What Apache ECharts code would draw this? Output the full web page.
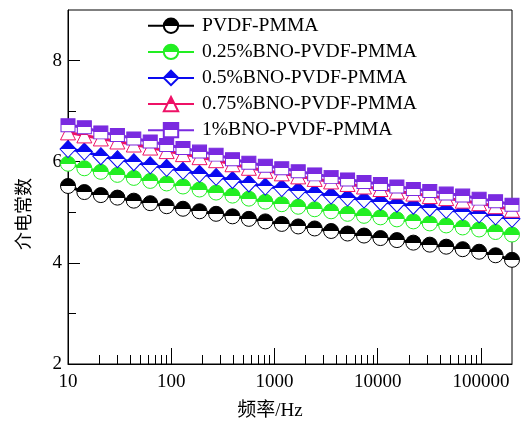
<!DOCTYPE html>
<html>
<head>
<meta charset="utf-8">
<script src="https://cdn.jsdelivr.net/npm/echarts@6/dist/echarts.min.js"></script>
<style>html,body{margin:0;padding:0;background:#fff}#c{width:529px;height:423px}</style>
</head>
<body>
<div id="c"></div>
<script>
// Frequencies (Hz)
const freqs = [10, 14.4, 20.8, 30.1, 43.4, 62.6, 90.3, 130, 188, 272, 392, 565, 816, 1177, 1699, 2452, 3538, 5106, 7369, 10634, 15346, 22147, 31960, 46123, 66560, 96052, 138613, 200000];
// Dielectric constant series
const pvdfPmma   = [5.52, 5.40, 5.34, 5.29, 5.23, 5.18, 5.12, 5.07, 5.02, 4.97, 4.92, 4.87, 4.82, 4.77, 4.72, 4.68, 4.63, 4.58, 4.54, 4.49, 4.45, 4.40, 4.36, 4.32, 4.27, 4.22, 4.15, 4.06];
const bno025     = [5.96, 5.87, 5.80, 5.74, 5.68, 5.62, 5.57, 5.51, 5.45, 5.39, 5.33, 5.27, 5.21, 5.16, 5.11, 5.06, 5.02, 4.97, 4.93, 4.90, 4.86, 4.82, 4.78, 4.74, 4.70, 4.66, 4.61, 4.56];
const bno05      = [6.25, 6.20, 6.11, 6.05, 5.99, 5.93, 5.88, 5.82, 5.76, 5.70, 5.64, 5.57, 5.51, 5.48, 5.43, 5.38, 5.33, 5.29, 5.25, 5.21, 5.17, 5.13, 5.09, 5.05, 5.01, 4.96, 4.92, 4.87];
const bno075     = [6.58, 6.52, 6.46, 6.40, 6.34, 6.28, 6.21, 6.15, 6.09, 6.03, 5.95, 5.88, 5.82, 5.77, 5.71, 5.66, 5.61, 5.56, 5.51, 5.46, 5.41, 5.37, 5.32, 5.28, 5.23, 5.18, 5.12, 5.05];
const bno1       = [6.72, 6.68, 6.58, 6.53, 6.46, 6.40, 6.33, 6.27, 6.20, 6.14, 6.05, 5.98, 5.92, 5.87, 5.81, 5.75, 5.70, 5.65, 5.60, 5.56, 5.51, 5.46, 5.42, 5.37, 5.33, 5.27, 5.22, 5.15];
const seriesNames = ['PVDF-PMMA', '0.25%BNO-PVDF-PMMA', '0.5%BNO-PVDF-PMMA', '0.75%BNO-PVDF-PMMA', '1%BNO-PVDF-PMMA'];
// Axis ticks
const yTickLabels = [2, 4, 6, 8];
const yMinorTicks = [3, 5, 7];
const xTickLabels = [10, 100, 1000, 10000, 100000];
const xMinorTicks = [20, 30, 40, 50, 60, 70, 80, 90, 200, 300, 400, 500, 600, 700, 800, 900,
  2000, 3000, 4000, 5000, 6000, 7000, 8000, 9000, 20000, 30000, 40000, 50000, 60000, 70000, 80000, 90000];

const allValues = [pvdfPmma, bno025, bno05, bno075, bno1];
const colors = ['#000000', '#22ee22', '#0a0af0', '#ee1166', '#7a2ae0'];
const symbols = ['circle', 'circle', 'diamond', 'triangle', 'rect'];
const sizes = [15, 15, [16, 17], 15, [14, 13]];
const FONT = '"Liberation Serif", "Times New Roman", "Noto Sans CJK SC", serif';

function halfFill(c) {
  return { type: 'linear', x: 0, y: 0, x2: 0, y2: 1, colorStops: [
    { offset: 0, color: c }, { offset: 0.5, color: c },
    { offset: 0.5, color: '#ffffff' }, { offset: 1, color: '#ffffff' }] };
}

const series = allValues.map((vals, i) => ({
  name: seriesNames[i],
  type: 'line',
  xAxisIndex: 0, yAxisIndex: 0,
  data: freqs.map((f, j) => [f, vals[j]]),
  symbol: symbols[i],
  symbolSize: sizes[i],
  lineStyle: { color: colors[i], width: 3 },
  itemStyle: { color: halfFill(colors[i]), borderColor: colors[i], borderWidth: 1 },
  emphasis: { disabled: true },
  animation: false
}));

const chart = echarts.init(document.getElementById('c'), null, { renderer: 'canvas' });
chart.setOption({
  animation: false,
  grid: { left: 68, right: 17, top: 10, bottom: 59, outerBoundsMode: 'none', containLabel: false,
          show: true, borderColor: '#000', borderWidth: 1, backgroundColor: 'transparent' },
  legend: {
    data: seriesNames,
    orient: 'vertical', left: 147, top: 16, padding: 0,
    itemWidth: 46, itemHeight: 18, itemGap: 6.5,
    textStyle: { fontFamily: FONT, fontSize: 19.6, color: '#000', padding: [0, 0, 0, 3] },
    selectedMode: false
  },
  xAxis: [{
    type: 'log', logBase: 10, min: 10, max: 200000, position: 'bottom',
    name: '频率/Hz', nameLocation: 'middle', nameGap: 38,
    nameTextStyle: { fontFamily: FONT, fontSize: 19, color: '#000', padding: [0, 40, 0, 0] },
    axisLine: { lineStyle: { color: '#000', width: 1 } },
    axisTick: { inside: true, length: 16, lineStyle: { color: '#000' }, customValues: xTickLabels },
    axisLabel: { fontFamily: FONT, fontSize: 19, color: '#000', margin: 9, customValues: xTickLabels, formatter: v => String(Math.round(v)) },
    splitLine: { show: false }
  }, {
    type: 'log', logBase: 10, min: 10, max: 200000, position: 'bottom',
    axisLine: { show: false },
    axisTick: { inside: true, length: 9, lineStyle: { color: '#000' }, customValues: xMinorTicks },
    axisLabel: { show: false },
    splitLine: { show: false }
  }],
  yAxis: [{
    type: 'value', min: 2, max: 9, position: 'left',
    name: '介电常数', nameLocation: 'middle', nameGap: 34,
    nameTextStyle: { fontFamily: FONT, fontSize: 18, color: '#000', padding: [0, 54, 0, 0] },
    axisLine: { show: true, lineStyle: { color: '#000', width: 1 } },
    axisTick: { inside: true, length: 12, lineStyle: { color: '#000' }, customValues: yTickLabels },
    axisLabel: { fontFamily: FONT, fontSize: 19, color: '#000', margin: 6, customValues: yTickLabels },
    splitLine: { show: false }
  }, {
    type: 'value', min: 2, max: 9, position: 'left',
    axisLine: { show: false },
    axisTick: { inside: true, length: 8, lineStyle: { color: '#000' }, customValues: yMinorTicks },
    axisLabel: { show: false },
    splitLine: { show: false }
  }],
  series: series
});
</script>
</body>
</html>
